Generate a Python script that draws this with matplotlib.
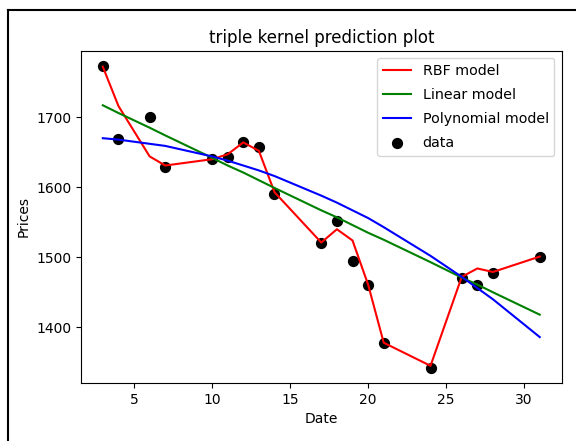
import numpy as np
import matplotlib
matplotlib.use("Agg")
import matplotlib.pyplot as plt
from matplotlib.lines import Line2D

# Données
dates = [3, 4, 6, 7, 10, 11, 12, 13, 14, 17, 18, 19, 20, 21, 24, 26, 27, 28, 31]
prices = [1773, 1669, 1700, 1629, 1640, 1643, 1664, 1658, 1590, 1520, 1552,
          1495, 1460, 1377, 1342, 1471, 1460, 1478, 1501]

# Prédictions des trois noyaux (aux mêmes dates)
rbf_pred = [1772, 1716, 1644, 1631, 1640, 1647, 1664, 1652, 1593, 1521, 1540,
            1524, 1461, 1378, 1345, 1472, 1484, 1479, 1501]
lin_pred = [1717, 1706, 1685, 1674, 1642, 1631, 1621, 1610, 1599, 1567, 1557,
            1546, 1535, 1525, 1493, 1471, 1461, 1450, 1418]
poly_pred = [1670, 1668, 1662, 1659, 1644, 1638, 1631, 1624, 1616, 1588, 1578,
             1567, 1556, 1543, 1502, 1472, 1456, 1440, 1386]

fig = plt.figure(figsize=(5.76, 4.41), dpi=100)
ax = fig.add_axes([0.1406, 0.1315, 0.8344, 0.7529])

ax.plot(dates, rbf_pred, color='red', lw=1.5, label='RBF model', zorder=2)
ax.plot(dates, lin_pred, color='g', lw=1.5, label='Linear model', zorder=2)
ax.plot(dates, poly_pred, color='b', lw=1.5, label='Polynomial model', zorder=2)
ax.scatter(dates, prices, color='black', s=50, label='data', zorder=1)

ax.set_yticks([1400, 1500, 1600, 1700])
ax.set_xlabel('Date')
ax.set_ylabel('Prices')
ax.set_title('triple kernel prediction plot', fontsize=12)
ax.legend(loc='upper right', scatterpoints=1, labelspacing=0.7, prop={'size': 10.3})

# cadre de la capture
fig.add_artist(Line2D([8/576, 8/576], [0, 1 - 10/441], color='black', lw=1.5))
fig.add_artist(Line2D([8/576, 1], [1 - 10/441, 1 - 10/441], color='black', lw=1.5))

fig.savefig('out.png', dpi=100)
